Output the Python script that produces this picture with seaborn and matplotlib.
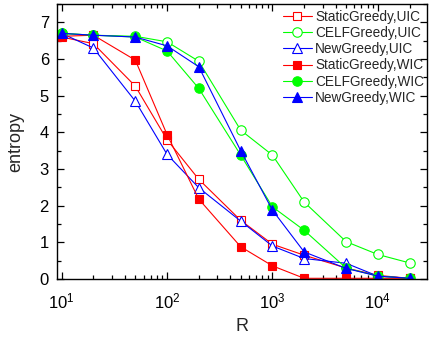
import matplotlib
matplotlib.use("Agg")
import matplotlib.pyplot as plt
import seaborn as sns
import pandas as pd
import numpy as np
from matplotlib.ticker import LogLocator, MultipleLocator, NullFormatter

R = [10, 20, 50, 100, 200, 500, 1000, 2000, 5000, 10000, 20000]
static_uic = [6.60, 6.42, 5.26, 3.80, 2.72, 1.60, 0.95, 0.65, 0.30, 0.10, 0.02]
celf_uic   = [6.70, 6.65, 6.62, 6.47, 5.94, 4.06, 3.38, 2.10, 1.02, 0.67, 0.44]
new_uic    = [6.70, 6.30, 4.85, 3.40, 2.49, 1.58, 0.90, 0.56, 0.43, 0.08, 0.02]
static_wic = [6.62, 6.65, 5.97, 3.94, 2.18, 0.88, 0.36, 0.02, 0.02, 0.02, 0.02]
celf_wic   = [6.70, 6.65, 6.60, 6.22, 5.20, 3.38, 1.97, 1.33, 0.30, 0.08, 0.02]
new_wic    = [6.70, 6.65, 6.60, 6.36, 5.79, 3.50, 1.88, 0.74, 0.29, 0.08, 0.02]

series = [
    ("StaticGreedy,UIC", static_uic, "#ff0000", "s", False),
    ("CELFGreedy,UIC", celf_uic, "#00ff00", "o", False),
    ("NewGreedy,UIC", new_uic, "#0000ff", "^", False),
    ("StaticGreedy,WIC", static_wic, "#ff0000", "s", True),
    ("CELFGreedy,WIC", celf_wic, "#00ff00", "o", True),
    ("NewGreedy,WIC", new_wic, "#0000ff", "^", True),
]
msizes = {"s": 6.2, "o": 6.8, "^": 7.2}

sns.set_style("ticks")
plt.rcParams['font.family'] = ['Liberation Sans', 'DejaVu Sans']

fig = plt.figure(figsize=(4.29, 3.37), dpi=100)
ax = fig.add_axes([0.1336, 0.172, 0.861, 0.816])

for name, vals, color, mk, filled in series:
    df = pd.DataFrame({"R": R, "entropy": vals})
    sns.lineplot(data=df, x="R", y="entropy", ax=ax, color=color, marker=mk,
                 markersize=msizes[mk], linewidth=0.8, label=name,
                 markerfacecolor=color if filled else "white",
                 markeredgecolor=color, markeredgewidth=0.8)

ax.set_xscale("log")
ax.set_xlim(9.09, 29100)
ax.set_ylim(0, 7.5)
ax.yaxis.set_major_locator(MultipleLocator(1))
ax.yaxis.set_minor_locator(MultipleLocator(0.5))
ax.xaxis.set_major_locator(LogLocator(base=10, numticks=10))
ax.xaxis.set_minor_locator(LogLocator(base=10, subs=np.arange(2, 10), numticks=20))
ax.xaxis.set_minor_formatter(NullFormatter())
ax.tick_params(which="both", direction="in", top=True, right=True, labelsize=12, width=0.9,
               colors="black")
ax.tick_params(axis="x", which="major", pad=9)
ax.tick_params(axis="y", which="major", pad=6)
ax.tick_params(which="major", length=5)
ax.tick_params(which="minor", length=3)
for s in ax.spines.values():
    s.set_linewidth(1.0)
    s.set_color("black")
ax.set_xlabel("R", fontsize=13, labelpad=5)
ax.set_ylabel("entropy", fontsize=13, labelpad=11)

leg = ax.legend(loc="upper left", bbox_to_anchor=(0.611, 0.979), frameon=False,
                fontsize=9.8, handlelength=2.13, handletextpad=0.22, labelspacing=0.16,
                borderaxespad=0.0, borderpad=0.0)

fig.savefig("out.png", dpi=100)
